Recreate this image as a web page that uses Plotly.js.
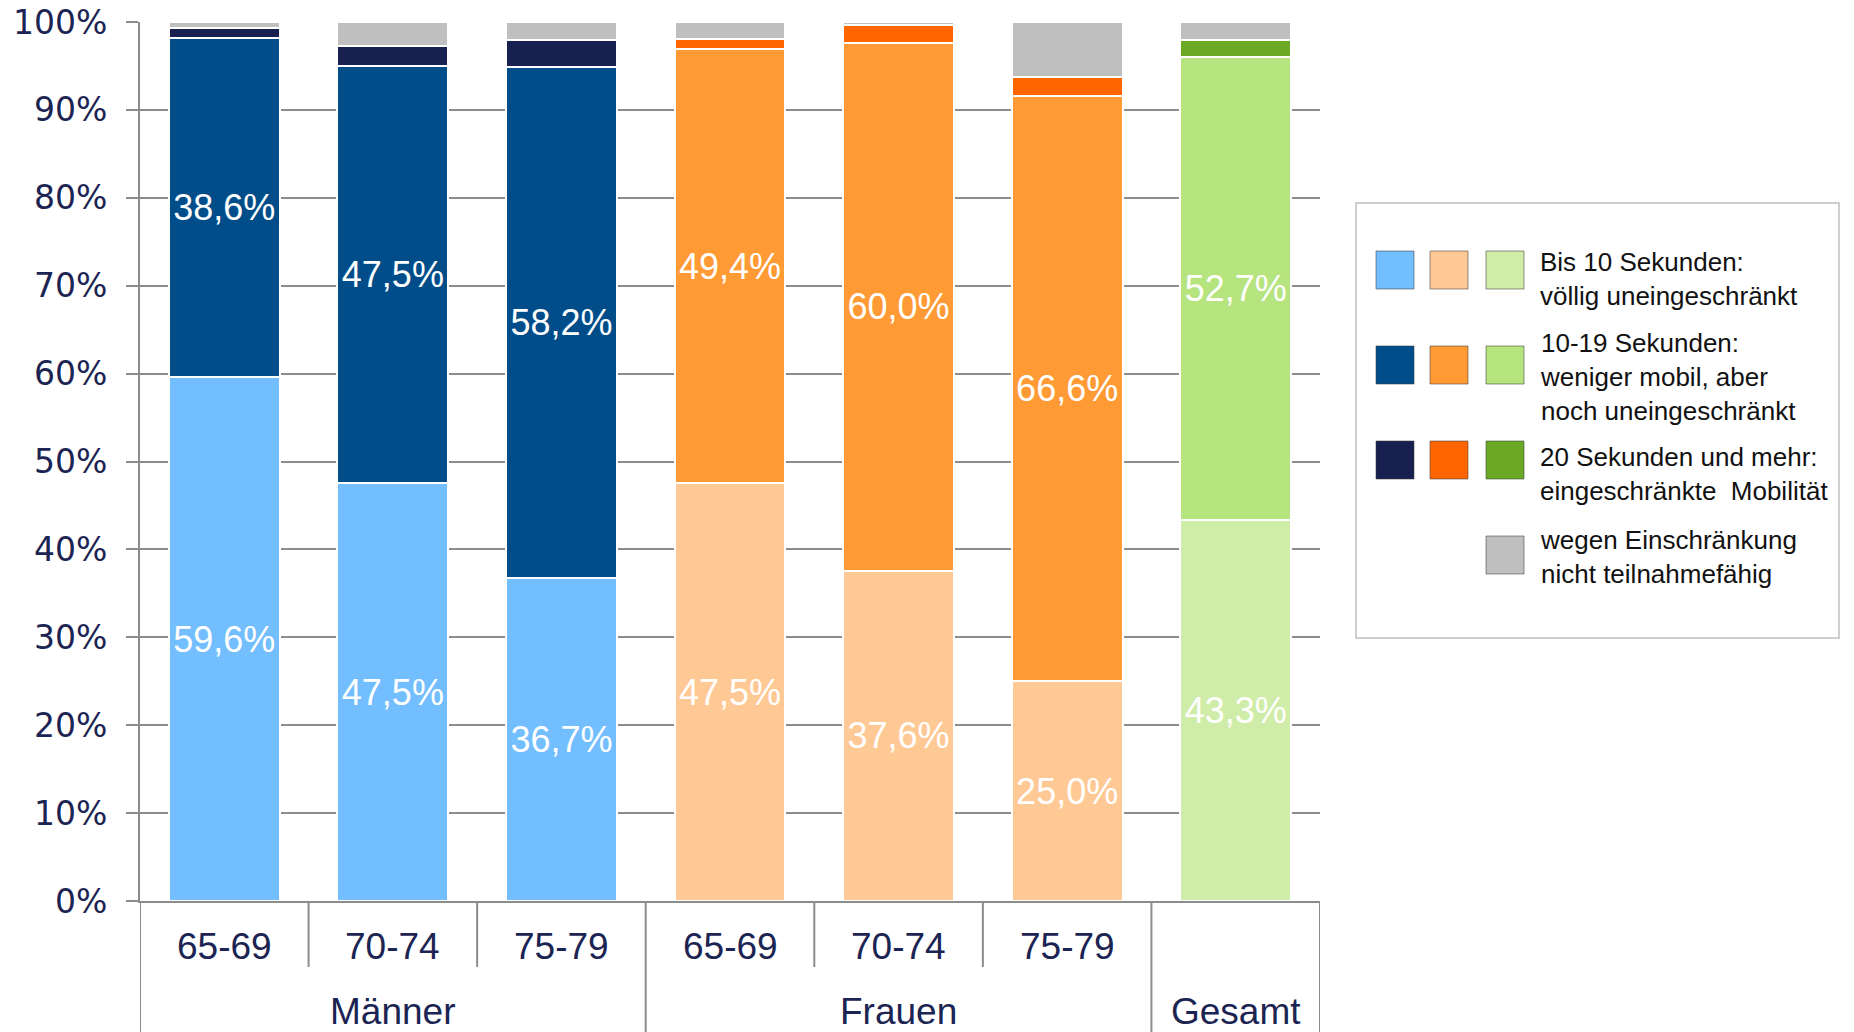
<!DOCTYPE html>
<html>
<head>
<meta charset="utf-8">
<script src="https://cdn.plot.ly/plotly-3.0.1.min.js"></script>
<style>
  html, body { margin: 0; padding: 0; background: #ffffff; }
  #chart { width: 1854px; height: 1032px; }
</style>
</head>
<body>
<div id="chart"></div>
<script>
// ---------- Data ----------
const groups = ['Männer', 'Männer', 'Männer', 'Frauen', 'Frauen', 'Frauen', 'Gesamt'];
const ages = ['65-69', '70-74', '75-79', '65-69', '70-74', '75-79', ''];
const groupLabels = ['Männer', 'Frauen', 'Gesamt'];

const bis10 = [59.6, 47.5, 36.7, 47.5, 37.6, 25.0, 43.3];
const sek10_19 = [38.6, 47.5, 58.2, 49.4, 60.0, 66.6, 52.7];
const sek20plus = [1.1, 2.3, 3.0, 1.2, 2.1, 2.2, 1.9];
const nichtTeilnahme = [0.7, 2.7, 2.1, 1.9, 0.3, 6.2, 2.1];

const legendLabels = [
  'Bis 10 Sekunden:<br>völlig uneingeschränkt',
  '10-19 Sekunden:<br>weniger mobil, aber<br>noch uneingeschränkt',
  '20 Sekunden und mehr:<br>eingeschränkte\u00a0 Mobilität',
  'wegen Einschränkung<br>nicht teilnahmefähig'
];

// ---------- Styles ----------
const pal = {
  M: ['#73BEFE', '#004D8A', '#17204E'],
  F: ['#FFC996', '#FF9A35', '#FF6600'],
  G: ['#D0ECA9', '#B6E47F', '#6BA824']
};
const grayCol = '#BFBFBF';
const navyText = '#1B2452';
const axisGray = '#8C8C8C';

const cats = groups.map((g, i) => g + ' ' + ages[i]);
const key = g => g === 'Männer' ? 'M' : (g === 'Frauen' ? 'F' : 'G');
const colsFor = level => groups.map(g => pal[key(g)][level]);
const fmt = v => v.toFixed(1).replace('.', ',') + '%';

const W = 1854, H = 1032;
const L = 140, R = 1320, T = 22, B = 901;
const px = x => (x - L) / (R - L);
const py = y => (B - y) / (B - T);

const lineStyle = { color: '#ffffff', width: 2 };
const traces = [
  { y: bis10, color: colsFor(0), text: bis10.map(fmt), name: 'Bis 10 Sekunden' },
  { y: sek10_19, color: colsFor(1), text: sek10_19.map(fmt), name: '10-19 Sekunden' },
  { y: sek20plus, color: colsFor(2), text: null, name: '20 Sekunden und mehr' },
  { y: nichtTeilnahme, color: groups.map(() => grayCol), text: null, name: 'nicht teilnahmefähig' }
].map(t => ({
  type: 'bar',
  x: cats,
  y: t.y,
  name: t.name,
  marker: { color: t.color, line: lineStyle },
  text: t.text || undefined,
  textposition: t.text ? 'inside' : 'none',
  insidetextanchor: 'middle',
  textangle: 0,
  textfont: { family: 'Liberation Sans, Arial, sans-serif', size: 36, color: '#ffffff' },
  hoverinfo: 'x+y',
  cliponaxis: false
}));

// ---------- Shapes ----------
const shapes = [];
for (let i = 0; i <= cats.length; i++) {
  const xb = i - 0.5;
  const long = (i === 0 || i === cats.length || groups[i] !== groups[i - 1]);
  shapes.push({
    type: 'line', xref: 'x', yref: 'paper',
    x0: xb, x1: xb, y0: 0, y1: long ? py(1040) : py(967),
    line: { color: axisGray, width: 2 }
  });
}
shapes.push({
  type: 'rect', xref: 'paper', yref: 'paper',
  x0: px(1356), x1: px(1839), y0: py(203), y1: py(638),
  line: { color: '#BFBFBF', width: 1.5 }, fillcolor: 'rgba(0,0,0,0)'
});
const swCols = [1376, 1430, 1486];
const swRows = [251, 346, 441, 536];
const swatch = (x, y, c) => shapes.push({
  type: 'rect', xref: 'paper', yref: 'paper',
  x0: px(x), x1: px(x + 38), y0: py(y), y1: py(y + 38),
  line: { color: 'rgba(60,60,60,0.55)', width: 1 }, fillcolor: c
});
for (let r = 0; r < 3; r++) {
  swatch(swCols[0], swRows[r], pal.M[r]);
  swatch(swCols[1], swRows[r], pal.F[r]);
  swatch(swCols[2], swRows[r], pal.G[r]);
}
swatch(swCols[2], swRows[3], grayCol);

// ---------- Annotations ----------
const annotations = [];
cats.forEach((c, i) => {
  if (ages[i]) annotations.push({
    xref: 'x', yref: 'paper', x: c, y: py(946), text: ages[i],
    showarrow: false, xanchor: 'center', yanchor: 'middle',
    font: { family: 'Liberation Sans, Arial, sans-serif', size: 37, color: navyText }
  });
});
groupLabels.forEach(g => {
  const idx = groups.map((gg, i) => gg === g ? i : -1).filter(i => i >= 0);
  const mid = (idx[0] + idx[idx.length - 1]) / 2;
  annotations.push({
    xref: 'x', yref: 'paper', x: mid, y: py(1011), text: g,
    showarrow: false, xanchor: 'center', yanchor: 'middle',
    font: { family: 'Liberation Sans, Arial, sans-serif', size: 37, color: navyText }
  });
});
const legendY = [279, 377, 474, 557];
legendLabels.forEach((t, i) => annotations.push({
  xref: 'paper', yref: 'paper', x: px(1538), y: py(legendY[i]), text: t,
  showarrow: false, xanchor: 'left', yanchor: 'middle', align: 'left',
  font: { family: 'Liberation Sans, Arial, sans-serif', size: 26, color: '#111111' }
}));

const layout = {
  width: W, height: H,
  margin: { l: L, r: W - R, t: T, b: H - B, pad: 0 },
  paper_bgcolor: '#ffffff', plot_bgcolor: '#ffffff',
  barmode: 'stack',
  bargap: 0.342,
  showlegend: false,
  xaxis: {
    type: 'category',
    showticklabels: false,
    ticks: '',
    showgrid: false,
    showline: true, linecolor: axisGray, linewidth: 2,
    zeroline: false,
    range: [-0.5, cats.length - 0.5],
    fixedrange: true
  },
  yaxis: {
    range: [0, 100],
    dtick: 10,
    ticksuffix: '%',
    showgrid: true, gridcolor: axisGray, gridwidth: 2,
    zeroline: false,
    showline: true, linecolor: axisGray, linewidth: 2,
    ticks: 'outside', ticklen: 12, tickwidth: 2, tickcolor: axisGray,
    ticklabelstandoff: 12,
    tickfont: { family: 'DejaVu Sans, Verdana, sans-serif', size: 33, color: navyText },
    fixedrange: true
  },
  shapes: shapes,
  annotations: annotations,
  uniformtext: { mode: false }
};

Plotly.newPlot('chart', traces, layout, { displayModeBar: false, staticPlot: true });
</script>
</body>
</html>
